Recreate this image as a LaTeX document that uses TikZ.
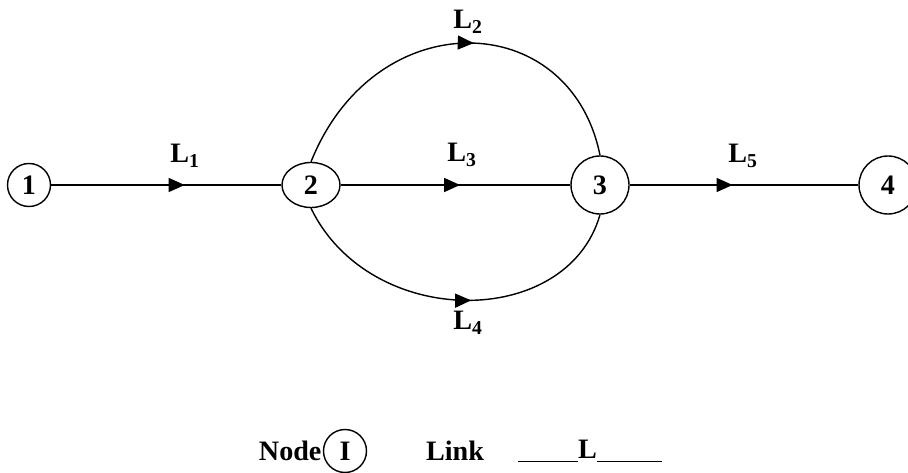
\documentclass[tikz,border=0pt]{standalone}
\usepackage{fontspec}
\setmainfont{Liberation Serif}
\usepackage{tikz}
\usetikzlibrary{shapes.geometric, arrows.meta, positioning, decorations.markings}

\begin{document}
\begin{tikzpicture}[
  every node/.style={font=\fontsize{16}{18}\selectfont\bfseries},
  netnode/.style={draw, thick, circle, inner sep=0pt},
  link/.style={thick, decoration={markings, mark=at position #1 with {\arrow{Triangle[length=3.2mm, width=2.8mm]}}}, postaction={decorate}},
  link/.default=0.5,
  lab/.style={inner sep=0pt},
]
  \useasboundingbox (0,0) rectangle (18.16,9.44);

  \node[netnode, minimum size=0.86cm] (n1) at (0.58, 5.74) {1};
  \node[netnode, ellipse, minimum width=1.16cm, minimum height=0.9cm] (n2) at (6.22, 5.74) {2};
  \node[netnode, minimum size=1.16cm] (n3) at (12.0, 5.74) {3};
  \node[netnode, minimum size=1.16cm] (n4) at (17.76, 5.74) {4};

  \draw[link=0.58] (n1) -- (n2);
  \draw[link=0.52] (n2) -- (n3);
  \draw[link=0.45] (n3) -- (n4);
  \draw[link=0.54] (n2.north) .. controls (7.5, 9.4) and (11.4, 9.3) .. (n3.north);
  \draw[link=0.54] (n2.south) .. controls (7.4, 2.84) and (11.34, 2.84) .. (n3.south);

  \node[lab] (l1) at (3.7, 6.32) {L\textsubscript{1}};
  \node[lab] (l2) at (9.36, 9.0) {L\textsubscript{2}};
  \node[lab] (l3) at (9.24, 6.34) {L\textsubscript{3}};
  \node[lab] (l4) at (9.36, 2.98) {L\textsubscript{4}};
  \node[lab] (l5) at (14.86, 6.32) {L\textsubscript{5}};

  % legend
  \node[netnode, minimum size=0.86cm] (key) at (6.9, 0.42) {I};
  \node[lab, left=0.02cm of key] (keytext) {Node};
  \node[lab] (linktext) at (9.1, 0.42) {Link};
  \node[lab] (linkkey) at (11.8, 0.42) {\underline{\hspace{1.2cm}}L\underline{\hspace{1.3cm}}};
\end{tikzpicture}
\end{document}
